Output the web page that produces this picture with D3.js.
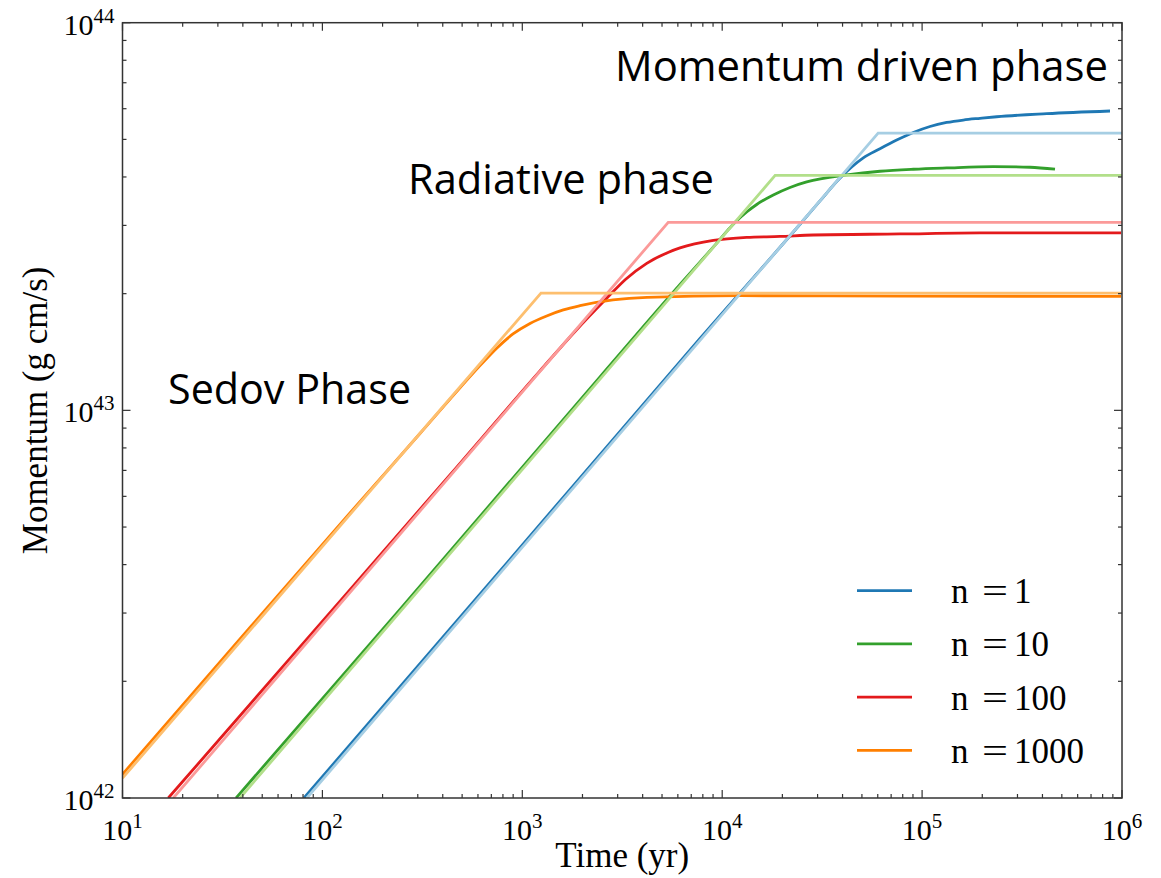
<!DOCTYPE html>
<html><head><meta charset="utf-8">
<script src="https://cdn.jsdelivr.net/npm/d3@7"></script>
<style>body{margin:0;background:#fff}</style>
</head><body>
<script>
// ---- data ----
const seriesLabels = ["1", "10", "100", "1000"];
const darkColors  = ["#1f78b4", "#33a02c", "#e31a1c", "#ff7f00"];
const lightColors = ["#a6cee3", "#b2df8a", "#fb9a99", "#fdbf6f"];

// analytic (light) curves: time (yr), momentum (g cm/s)
const anaT_n1    = [83.6, 60260, 1e6];
const anaP_n1    = [1.0e42, 5.19e43, 5.19e43];
const anaT_n10   = [38.7, 18400, 1e6];
const anaP_n10   = [1.0e42, 4.036e43, 4.036e43];
const anaT_n100  = [17.95, 5370, 1e6];
const anaP_n100  = [1.0e42, 3.055e43, 3.055e43];
const anaT_n1000 = [10, 1240, 1e6];
const anaP_n1000 = [1.125e42, 2.007e43, 2.007e43];

// simulation (dark) curves
const simT_n1 = [80.9, 773.6, 7744, 24500, 30850, 38850, 44600, 50790, 61550, 74620, 90350, 109500, 132700, 160700, 194800, 236200, 420100, 871000];
const simP_n1 = [1.0e42, 3.853e42, 1.532e43, 3.020e43, 3.469e43, 3.975e43, 4.250e43, 4.480e43, 4.730e43, 4.980e43, 5.210e43, 5.399e43, 5.528e43, 5.610e43, 5.667e43, 5.720e43, 5.824e43, 5.918e43];
const simT_n10 = [36.97, 244.4, 2447, 6151, 8995, 11588, 13262, 14883, 18016, 21840, 26470, 41980, 61580, 90360, 132800, 227100, 346700, 462200];
const simP_n10 = [1.0e42, 3.066e42, 1.220e43, 2.112e43, 2.632e43, 3.053e43, 3.249e43, 3.397e43, 3.594e43, 3.758e43, 3.883e43, 4.048e43, 4.138e43, 4.188e43, 4.220e43, 4.253e43, 4.238e43, 4.188e43];
const simT_n100 = [16.95, 77.3, 434.6, 1226, 1835, 2644, 3302, 4192, 5357, 6151, 9027, 13262, 19454, 28550, 77520, 194800, 988500];
const simP_n100 = [1.0e42, 2.453e42, 6.815e42, 1.264e43, 1.598e43, 1.946e43, 2.182e43, 2.395e43, 2.555e43, 2.624e43, 2.743e43, 2.793e43, 2.809e43, 2.834e43, 2.851e43, 2.868e43, 2.868e43];
const simT_n1000 = [10, 43.43, 137.4, 307.7, 487.9, 614.3, 747.1, 898.4, 1093, 1324, 1604, 1944, 2842, 4206, 12274, 77520, 988500];
const simP_n1000 = [1.151e42, 2.754e42, 5.437e42, 8.717e42, 1.143e43, 1.304e43, 1.449e43, 1.574e43, 1.676e43, 1.752e43, 1.816e43, 1.862e43, 1.927e43, 1.957e43, 1.976e43, 1.972e43, 1.967e43];

const anaT = [anaT_n1, anaT_n10, anaT_n100, anaT_n1000];
const anaP = [anaP_n1, anaP_n10, anaP_n100, anaP_n1000];
const simT = [simT_n1, simT_n10, simT_n100, simT_n1000];
const simP = [simP_n1, simP_n10, simP_n100, simP_n1000];

const xTickExps = [1, 2, 3, 4, 5, 6];
const yTickExps = [42, 43, 44];
const annotations = [
  {text: "Sedov Phase", t: 16.9, p: 1.036e43, w: 243},
  {text: "Radiative phase", t: 268, p: 3.62e43, w: 306},
  {text: "Momentum driven phase", t: 2909, p: 7.08e43, w: 493}
];

// ---- layout ----
const W = 1161, H = 878;
const L = 122.5, R = 1122, T = 22.7, B = 798;
const svg = d3.select("body").append("svg").attr("width", W).attr("height", H)
  .style("font-family", "'Liberation Serif','Times New Roman',serif");

const x = d3.scaleLog().domain([10, 1e6]).range([L, R]);
const y = d3.scaleLog().domain([1e42, 1e44]).range([B, T]);

svg.append("defs").append("clipPath").attr("id", "clip").append("rect")
  .attr("x", L).attr("y", T).attr("width", R - L).attr("height", B - T);

const plot = svg.append("g").attr("clip-path", "url(#clip)");
const line = d3.line().x(d => x(d[0])).y(d => y(d[1]));
const smooth = d3.line().x(d => x(d[0])).y(d => y(d[1])).curve(d3.curveMonotoneX);

for (let i = 0; i < 4; i++) {
  const pts = simT[i].map((t, k) => [t, simP[i][k]]);
  plot.append("path").attr("d", smooth(pts)).attr("fill", "none")
    .attr("stroke", darkColors[i]).attr("stroke-width", 2.8);
}
for (let i = 0; i < 4; i++) {
  const pts = anaT[i].map((t, k) => [t, anaP[i][k]]);
  plot.append("path").attr("d", line(pts)).attr("fill", "none")
    .attr("stroke", lightColors[i]).attr("stroke-width", 2.8);
}

// ---- axes (ticks inward on all sides) ----
const xMinor = [], yMinor = [];
for (let e = 1; e < 6; e++) for (let m = 2; m < 10; m++) xMinor.push(m * Math.pow(10, e));
for (let e = 42; e < 44; e++) for (let m = 2; m < 10; m++) yMinor.push(m * Math.pow(10, e));
const xMajor = xTickExps.map(e => Math.pow(10, e));
const yMajor = yTickExps.map(e => Math.pow(10, e));

const axG = svg.append("g").attr("stroke", "#333").attr("stroke-width", 1.2);
const majLen = 8, minLen = 4;
xMajor.forEach(v => {
  axG.append("line").attr("x1", x(v)).attr("x2", x(v)).attr("y1", B).attr("y2", B - majLen);
  axG.append("line").attr("x1", x(v)).attr("x2", x(v)).attr("y1", T).attr("y2", T + majLen);
});
xMinor.forEach(v => {
  axG.append("line").attr("x1", x(v)).attr("x2", x(v)).attr("y1", B).attr("y2", B - minLen);
  axG.append("line").attr("x1", x(v)).attr("x2", x(v)).attr("y1", T).attr("y2", T + minLen);
});
yMajor.forEach(v => {
  axG.append("line").attr("x1", L).attr("x2", L + majLen).attr("y1", y(v)).attr("y2", y(v));
  axG.append("line").attr("x1", R).attr("x2", R - majLen).attr("y1", y(v)).attr("y2", y(v));
});
yMinor.forEach(v => {
  axG.append("line").attr("x1", L).attr("x2", L + minLen).attr("y1", y(v)).attr("y2", y(v));
  axG.append("line").attr("x1", R).attr("x2", R - minLen).attr("y1", y(v)).attr("y2", y(v));
});
svg.append("rect").attr("x", L).attr("y", T).attr("width", R - L).attr("height", B - T)
  .attr("fill", "none").attr("stroke", "#333").attr("stroke-width", 1.5);

// tick labels
xTickExps.forEach(e => {
  const t = svg.append("text").attr("x", x(Math.pow(10, e))).attr("y", B + 42)
    .attr("text-anchor", "middle").attr("font-size", 30).attr("fill", "#000");
  t.append("tspan").text("10");
  t.append("tspan").attr("font-size", 21).attr("dy", -12).text(e);
});
yTickExps.forEach(e => {
  const t = svg.append("text").attr("x", L - 8).attr("y", y(Math.pow(10, e)) + 12)
    .attr("text-anchor", "end").attr("font-size", 30).attr("fill", "#000");
  t.append("tspan").text("10");
  t.append("tspan").attr("font-size", 21).attr("dy", -12).text(e);
});

// axis titles
svg.append("text").attr("x", (L + R) / 2).attr("y", 867).attr("text-anchor", "middle")
  .attr("font-size", 35).text("Time (yr)");
svg.append("text").attr("transform", `translate(47,${(T + B) / 2}) rotate(-90)`)
  .attr("text-anchor", "middle").attr("font-size", 35).text("Momentum (g cm/s)");

// annotations
annotations.forEach(a => {
  svg.append("text").attr("x", x(a.t)).attr("y", y(a.p))
    .attr("font-family", "'Open Sans',sans-serif").attr("font-size", 42)
    .attr("textLength", a.w).attr("lengthAdjust", "spacingAndGlyphs").text(a.text);
});

// legend
const lg = svg.append("g");
seriesLabels.forEach((lab, i) => {
  const yy = 590.7 + i * 53.2;
  lg.append("line").attr("x1", 857).attr("x2", 912).attr("y1", yy).attr("y2", yy)
    .attr("stroke", darkColors[i]).attr("stroke-width", 2.8);
  lg.append("text").attr("x", 951).attr("y", yy + 12.5).attr("font-size", 35).text("n");
  lg.append("text").attr("x", 982).attr("y", yy + 12.5).attr("font-size", 35)
    .attr("textLength", 26).attr("lengthAdjust", "spacingAndGlyphs").text("=");
  lg.append("text").attr("x", 1014).attr("y", yy + 12.5).attr("font-size", 35).text(lab);
});
</script>
</body></html>
